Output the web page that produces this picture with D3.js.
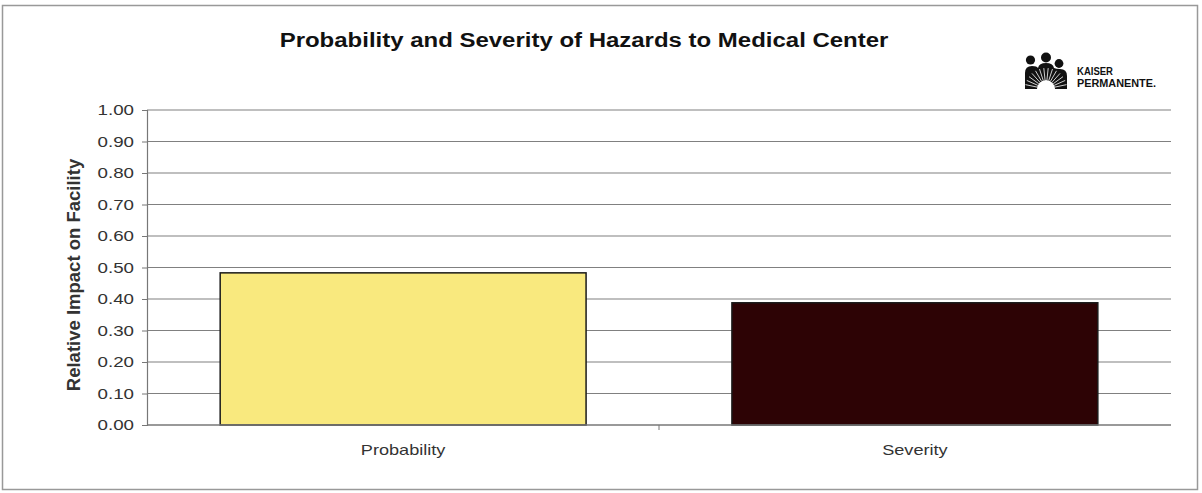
<!DOCTYPE html>
<html>
<head>
<meta charset="utf-8">
<script src="https://cdn.jsdelivr.net/npm/d3@7"></script>
<style>
  body { margin: 0; background: #fff; }
  svg text { font-family: "Liberation Sans", Arial, sans-serif; }
</style>
</head>
<body>
<svg id="chart" width="1202" height="493"></svg>
<script>
var categories = ["Probability", "Severity"];
var values = [0.483, 0.388];
var barColors = ["#f9e97e", "#2d0305"];
var yTicks = [0, 0.1, 0.2, 0.3, 0.4, 0.5, 0.6, 0.7, 0.8, 0.9, 1.0];

var margin = {left: 147, right: 31, top: 110, bottom: 68};
var width = 1202, height = 493;

// il riferimento e' leggermente allargato in orizzontale
var stretch = 1.25;

var svg = d3.select("#chart");

// cornice esterna
svg.append("rect")
   .attr("x", 2.5).attr("y", 5.5)
   .attr("width", 1195).attr("height", 484)
   .attr("fill", "none").attr("stroke", "#999").attr("stroke-width", 1.5);

var x = d3.scaleBand()
    .domain(categories)
    .range([margin.left, width - margin.right])
    .paddingInner(0.285)
    .paddingOuter(0.143);

var y = d3.scaleLinear()
    .domain([0, 1])
    .range([height - margin.bottom, margin.top]);

// griglia
svg.append("g")
   .selectAll("line")
   .data(yTicks.slice(1))
   .enter().append("line")
   .attr("x1", margin.left).attr("x2", width - margin.right)
   .attr("y1", function(d){ return y(d); })
   .attr("y2", function(d){ return y(d); })
   .attr("stroke", "#808080").attr("stroke-width", 1.2);

// asse y
var yAxis = svg.append("g")
   .attr("transform", "translate(" + margin.left + ",0)")
   .call(d3.axisLeft(y).tickValues(yTicks).tickFormat(d3.format(".2f")).tickSize(5).tickPadding(8));
yAxis.select(".domain").attr("stroke", "#777").attr("stroke-width", 1.2);
yAxis.selectAll(".tick line").attr("stroke", "#777");
yAxis.selectAll("text")
     .attr("font-size", 15).attr("fill", "#333")
     .attr("font-family", "Liberation Sans, Arial, sans-serif")
     .attr("x", -13 / stretch)
     .attr("transform", "scale(" + stretch + ",1)");

// barre
svg.selectAll(".bar")
   .data(categories)
   .enter().append("rect")
   .attr("class", "bar")
   .attr("x", function(d){ return x(d); })
   .attr("y", function(d, i){ return y(values[i]); })
   .attr("width", x.bandwidth())
   .attr("height", function(d, i){ return y(0) - y(values[i]); })
   .attr("fill", function(d, i){ return barColors[i]; })
   .attr("stroke", "#1a1a1a").attr("stroke-width", 1.5);

// asse x
var xAxis = svg.append("g")
   .attr("transform", "translate(0," + y(0) + ")");
xAxis.append("line")
   .attr("x1", margin.left).attr("x2", width - margin.right)
   .attr("stroke", "#777").attr("stroke-width", 1.5);
xAxis.append("line")
   .attr("x1", (margin.left + width - margin.right) / 2)
   .attr("x2", (margin.left + width - margin.right) / 2)
   .attr("y1", 0).attr("y2", 5)
   .attr("stroke", "#777");
xAxis.selectAll("text")
   .data(categories)
   .enter().append("text")
   .attr("transform", function(d){
       return "translate(" + (x(d) + x.bandwidth() / 2) + ",30) scale(" + stretch + ",1)";
   })
   .attr("text-anchor", "middle")
   .attr("font-size", 14.5).attr("fill", "#333")
   .text(function(d){ return d; });

// titolo asse y
svg.append("text")
   .attr("transform", "translate(80,275) rotate(-90)")
   .attr("text-anchor", "middle")
   .attr("font-size", 18.5).attr("font-weight", "bold").attr("fill", "#333")
   .text("Relative Impact on Facility");

// titolo
svg.append("text")
   .attr("transform", "translate(584,47) scale(1.23,1)")
   .attr("text-anchor", "middle")
   .attr("font-size", 19.5).attr("font-weight", "bold").attr("fill", "#111")
   .text("Probability and Severity of Hazards to Medical Center");

// logo: sagoma di tre figure con raggi
var logo = svg.append("g").attr("transform", "translate(1046,89)");
logo.append("path")
    .attr("d", "M-21,0 L-21,-16 Q-21,-23 -14,-23 Q-9,-23 -8,-21 Q-7,-26 0,-26 Q7,-26 8,-21 " +
               "Q10,-20 14,-20 Q21,-20 21,-13 L21,0 Z")
    .attr("fill", "#111");
[[-15.5, -29, 4.6], [0, -31.5, 5], [13, -25.5, 4.4]].forEach(function(h){
  logo.append("circle").attr("cx", h[0]).attr("cy", h[1]).attr("r", h[2]).attr("fill", "#111");
});
logo.append("circle").attr("cx", 0).attr("cy", 0).attr("r", 9).attr("fill", "#fff");
logo.selectAll(".ray")
    .data(d3.range(-78, 79, 12))
    .enter().append("line")
    .attr("x1", function(d){ return 9 * Math.sin(d * Math.PI / 180); })
    .attr("y1", function(d){ return -9 * Math.cos(d * Math.PI / 180); })
    .attr("x2", function(d){ return 21 * Math.sin(d * Math.PI / 180); })
    .attr("y2", function(d){ return -21 * Math.cos(d * Math.PI / 180); })
    .attr("stroke", "#fff").attr("stroke-width", 0.8);
svg.append("text").attr("x", 1077).attr("y", 75)
   .attr("font-size", 11.5).attr("font-weight", "bold").attr("fill", "#111")
   .attr("textLength", 36).attr("lengthAdjust", "spacingAndGlyphs")
   .text("KAISER");
svg.append("text").attr("x", 1077).attr("y", 87)
   .attr("font-size", 11.5).attr("font-weight", "bold").attr("fill", "#111")
   .attr("textLength", 79).attr("lengthAdjust", "spacingAndGlyphs")
   .text("PERMANENTE.");
</script>
</body>
</html>
